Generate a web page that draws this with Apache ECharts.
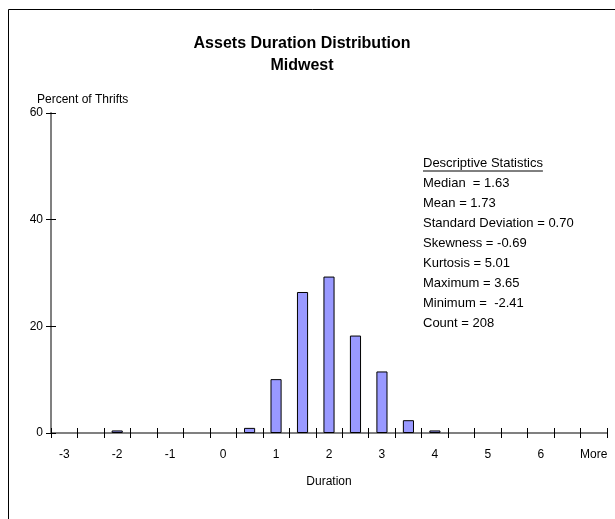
<!DOCTYPE html>
<html>
<head>
<meta charset="utf-8">
<script src="https://cdn.jsdelivr.net/npm/echarts@6/dist/echarts.min.js"></script>
<style>
html,body{margin:0;padding:0;background:#fff;}
#c{width:615px;height:519px;}
</style>
</head>
<body>
<div id="c"></div>
<script>
// Data
var categories = ['-3','-2.5','-2','-1.5','-1','-0.5','0','0.5','1','1.5','2','2.5','3','3.5','4','4.5','5','5.5','6','6.5','More'];
var percentOfThrifts = [0,0,0.48,0,0,0,0,0.96,10.10,26.44,29.33,18.27,11.54,2.40,0.48,0,0,0,0,0,0];
var yTicks = [0,20,40,60];
var titleText = 'Assets Duration Distribution';
var subtitleText = 'Midwest';
var statsHeader = 'Descriptive Statistics';
var statsLines = ['Median  = 1.63','Mean = 1.73','Standard Deviation = 0.70','Skewness = -0.69','Kurtosis = 5.01','Maximum = 3.65','Minimum =  -2.41','Count = 208'];

var FONT = 'Arial, "Liberation Sans", sans-serif';
var chart = echarts.init(document.getElementById('c'), null, {renderer:'canvas'});

function textWidth(str, font){
  var cv = document.createElement('canvas').getContext('2d');
  cv.font = font; return cv.measureText(str).width;
}
var SF = '13px ' + FONT;
var statsX = 423, statsY0 = 163, statsStep = 20;
var graphics = [
  {type:'rect', shape:{x:8.5,y:9.5,width:620,height:520}, style:{fill:'none',stroke:'#000',lineWidth:1}, silent:true},
  {type:'text', x:37, y:100, style:{text:'Percent of Thrifts', font:'12px '+FONT, fill:'#000', textVerticalAlign:'middle'}},
  {type:'text', x:329, y:482, style:{text:'Duration', font:'12px '+FONT, fill:'#000', textAlign:'center', textVerticalAlign:'middle'}},
  {type:'text', x:statsX, y:statsY0, style:{text:statsHeader, font:SF, fill:'#000', textVerticalAlign:'middle'}},
  {type:'line', shape:{x1:statsX, y1:statsY0+8, x2:statsX+textWidth(statsHeader,SF), y2:statsY0+8}, style:{stroke:'#000', lineWidth:1}}
];
statsLines.forEach(function(s,i){
  graphics.push({type:'text', x:statsX, y:statsY0+statsStep*(i+1), style:{text:s, font:SF, fill:'#000', textVerticalAlign:'middle'}});
});

chart.setOption({
  animation:false,
  backgroundColor:'#fff',
  title:[
    {text:titleText, left:297, top:31, textAlign:'center', textStyle:{fontFamily:FONT, fontSize:16, fontWeight:'bold', color:'#000'}},
    {text:subtitleText, left:297, top:53, textAlign:'center', textStyle:{fontFamily:FONT, fontSize:16, fontWeight:'bold', color:'#000'}}
  ],
  grid:{left:51, right:8, top:113, bottom:86, containLabel:false},
  xAxis:[
    {type:'category', data:categories, boundaryGap:true,
     axisLine:{show:true, lineStyle:{color:'#808080', width:2}},
     axisTick:{show:true, inside:false, length:5, interval:0, lineStyle:{color:'#000', width:1}},
     axisLabel:{show:true, interval:1, margin:16, color:'#000', fontFamily:FONT, fontSize:12},
     splitLine:{show:false}},
    {type:'category', data:categories, boundaryGap:true, position:'bottom',
     axisLine:{show:false},
     axisTick:{show:true, inside:true, length:5, interval:0, lineStyle:{color:'#000', width:1}},
     axisLabel:{show:false}, splitLine:{show:false}}
  ],
  yAxis:[
    {type:'value', min:0, max:60, interval:20,
     axisLine:{show:true, lineStyle:{color:'#808080', width:2}},
     axisTick:{show:true, inside:false, length:5, lineStyle:{color:'#000', width:1}},
     axisLabel:{show:true, margin:8, color:'#000', fontFamily:FONT, fontSize:12,
       formatter:function(v){ return yTicks.indexOf(v)>=0 ? String(v) : ''; }},
     splitLine:{show:false}},
    {type:'value', min:0, max:60, interval:20, position:'left',
     axisLine:{show:false},
     axisTick:{show:true, inside:true, length:5, lineStyle:{color:'#000', width:1}},
     axisLabel:{show:false}, splitLine:{show:false}}
  ],
  series:[{
    type:'bar', xAxisIndex:0, yAxisIndex:0,
    data:percentOfThrifts.map(function(v){ return v === 0 ? null : v; }),
    barWidth:'42%',
    itemStyle:{color:'#9999FF', borderColor:'#000', borderWidth:1}
  }],
  graphic:graphics
});
</script>
</body>
</html>
